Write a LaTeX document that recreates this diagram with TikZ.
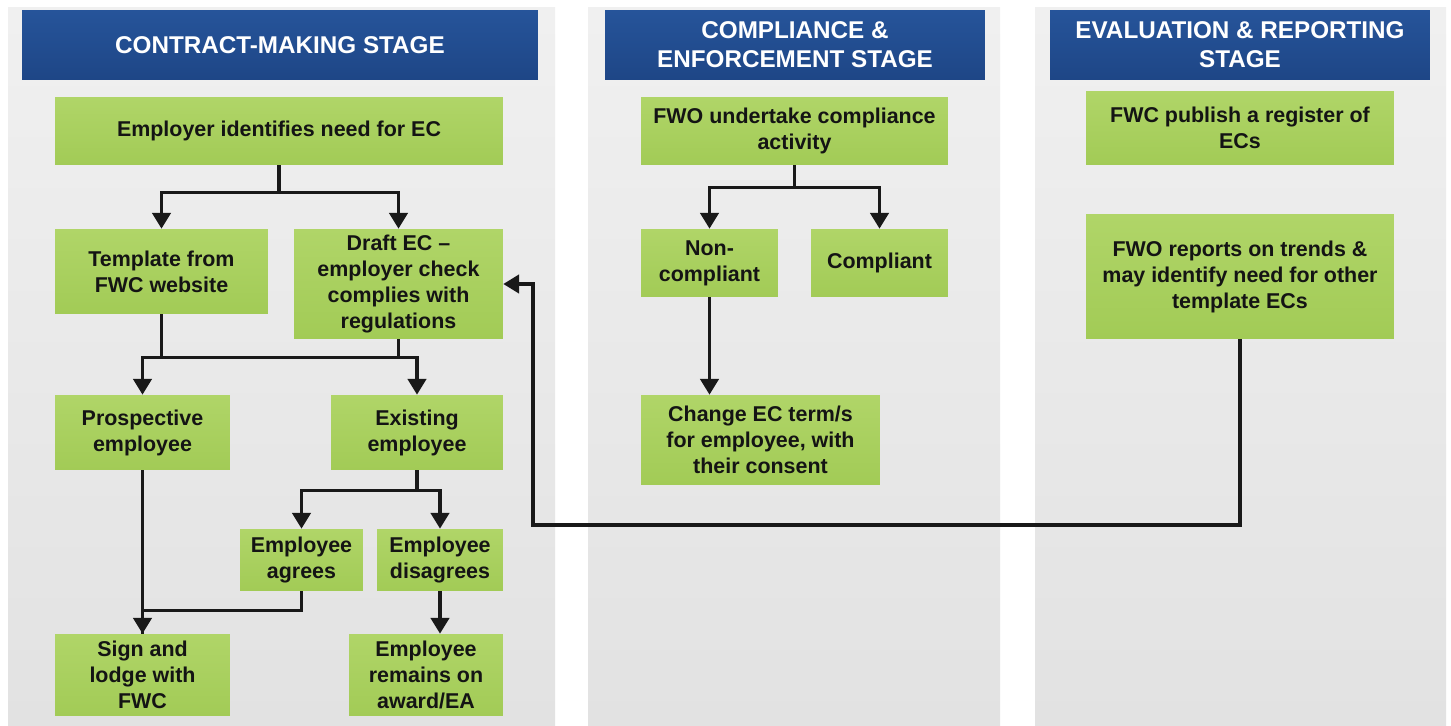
\documentclass[tikz,border=0pt]{standalone}
\usepackage{fontspec}
\setmainfont{Liberation Sans}
\usetikzlibrary{arrows.meta}
\usetikzlibrary{positioning}
\usetikzlibrary{calc}
\definecolor{headblue}{RGB}{38,84,154}
\definecolor{headbluedark}{RGB}{30,70,134}
\definecolor{boxgreen}{RGB}{176,213,104}
\definecolor{boxgreendark}{RGB}{162,203,86}
\definecolor{panelgray}{RGB}{240,240,240}
\definecolor{panelgraydark}{RGB}{226,226,226}
\definecolor{textdark}{RGB}{20,20,20}

\begin{document}
\begin{tikzpicture}[x=0.02cm,y=-0.02cm,
                panel/.style={top color=panelgray, bottom color=panelgraydark},
                stagehead/.style={top color=headblue, bottom color=headbluedark,
                  text=white, align=center, inner sep=0pt,
                  font=\fontsize{13.8}{16.5}\selectfont\bfseries},
                stepbox/.style={top color=boxgreen, bottom color=boxgreendark,
                  text=textdark, align=center, inner sep=0pt,
                  font=\fontsize{12.2}{14.8}\selectfont\bfseries},
                line/.style={line width=1.8pt, black!90},
                arr/.style={line, -{Triangle[width=10.5pt,length=9pt]}}]
             \useasboundingbox (0,0) rectangle (1451,726);
             \fill[white] (0,0) rectangle (1451,726);
             \path[panel] (8,8) rectangle (555,726);
             \path[panel] (588,8) rectangle (1000,726);
             \path[panel] (1035,8) rectangle (1446,726);

             \node[stagehead, minimum width=10.32cm, minimum height=1.4cm] (headA) at (280,45) {CONTRACT-MAKING STAGE};
             \node[stagehead, minimum width=7.6cm, minimum height=1.4cm] (headB) at (795,45) {COMPLIANCE \&\\ENFORCEMENT STAGE};
             \node[stagehead, minimum width=7.6cm, minimum height=1.4cm] (headC) at (1240,45) {EVALUATION \& REPORTING\\STAGE};

             \node[stepbox, minimum width=8.96cm, minimum height=1.36cm] (need) at (279,131) {Employer identifies need for EC};
             \node[stepbox, minimum width=4.26cm, minimum height=1.7cm] (tmpl) at (161.5,271.5) {Template from\\FWC website};
             \node[stepbox, minimum width=4.18cm, minimum height=2.2cm] (draft) at (398.5,284) {Draft EC --\\employer check\\complies with\\regulations};
             \node[stepbox, minimum width=3.5cm, minimum height=1.5cm] (prosp) at (142.5,432.5) {Prospective\\employee};
             \node[stepbox, minimum width=3.44cm, minimum height=1.5cm] (exist) at (417,432.5) {Existing\\employee};
             \node[stepbox, minimum width=2.46cm, minimum height=1.24cm] (agree) at (301.5,560) {Employee\\agrees};
             \node[stepbox, minimum width=2.52cm, minimum height=1.24cm] (disagree) at (440,560) {Employee\\disagrees};
             \node[stepbox, minimum width=3.5cm, minimum height=1.64cm] (sign) at (142.5,675) {Sign and\\lodge with\\FWC};
             \node[stepbox, minimum width=3.08cm, minimum height=1.64cm] (remain) at (426,675) {Employee\\remains on\\award/EA};

             \node[stepbox, minimum width=6.14cm, minimum height=1.36cm] (fwo) at (794.5,131) {FWO undertake compliance\\activity};
             \node[stepbox, minimum width=2.74cm, minimum height=1.36cm] (noncomp) at (709.5,263) {Non-\\compliant};
             \node[stepbox, minimum width=2.74cm, minimum height=1.36cm] (comp) at (879.5,263) {Compliant};
             \node[stepbox, minimum width=4.78cm, minimum height=1.8cm] (change) at (760.5,440) {Change EC term/s\\for employee, with\\their consent};

             \node[stepbox, minimum width=6.16cm, minimum height=1.48cm] (register) at (1240,128) {FWC publish a register of\\ECs};
             \node[stepbox, minimum width=6.16cm, minimum height=2.5cm] (trends) at (1240,276.5) {FWO reports on trends \&\\may identify need for other\\template ECs};

             \draw[arr] (need.south) -- ++(0,27) -| (tmpl.north);
             \draw[arr] (need.south) -- ++(0,27) -| (draft.north);
             \draw[arr] (tmpl.south) -- ++(0,43) -| (exist.north);
             \draw[arr] (draft.south) -- ++(0,18) -| (prosp.north);
             \draw[arr] (exist.south) -- ++(0,20) -| (agree.north);
             \draw[arr] (exist.south) -- ++(0,20) -| (disagree.north);
             \draw[arr] (disagree.south) -- (disagree.south |- remain.north);
             \draw[line] (agree.south) -- ++(0,19) -| (sign.north);
             \draw[arr] (prosp.south) -- (sign.north);

             \draw[arr] (fwo.south) -- ++(0,22) -| (noncomp.north);
             \draw[arr] (fwo.south) -- ++(0,22) -| (comp.north);
             \draw[arr] (noncomp.south) -- (noncomp.south |- change.north);

             \coordinate (back) at (533,525);
             \draw[arr] (trends.south) |- (back) |- (draft.east);
             \end{tikzpicture}
\end{document}
